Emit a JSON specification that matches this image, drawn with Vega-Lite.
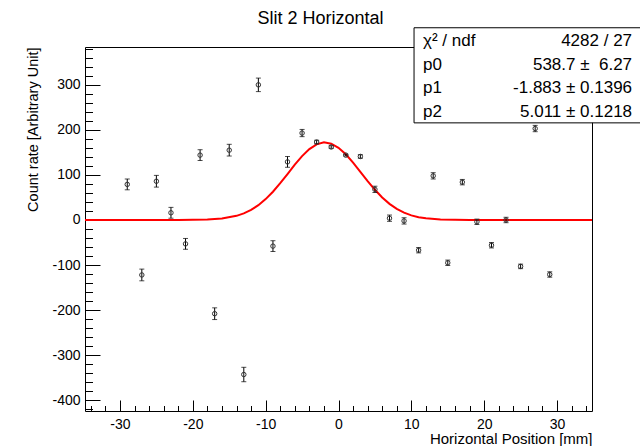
{
  "$schema": "https://vega.github.io/schema/vega-lite/v6.json",
  "width": 507,
  "height": 364,
  "autosize": "none",
  "padding": {"left": 85, "top": 47, "right": 48, "bottom": 35},
  "background": "white",
  "config": {
    "font": "Liberation Sans",
    "view": {"stroke": "black", "strokeWidth": 1},
    "axis": {"grid": false, "domain": false, "labelColor": "black", "tickColor": "black", "titleColor": "black", "labelFont": "Liberation Sans", "titleFont": "Liberation Sans", "titleFontWeight": "normal", "labelFontSize": 14, "labelOverlap": false, "labelFlush": false, "tickWidth": 1, "tickCount": 200}
  },
  "title": {"text": "Slit 2 Horizontal", "font": "Liberation Sans", "fontSize": 18, "fontWeight": "normal", "color": "black", "anchor": "middle", "frame": "group", "dx": -18, "offset": -1},
  "layer": [
    {
      "encoding": {
        "x": {"field": "x", "type": "quantitative", "scale": {"domain": [-34.8, 34.8], "nice": false, "zero": false},
          "axis": {
            "values": [-34, -32, -30, -28, -26, -24, -22, -20, -18, -16, -14, -12, -10, -8, -6, -4, -2, 0, 2, 4, 6, 8, 10, 12, 14, 16, 18, 20, 22, 24, 26, 28, 30, 32, 34],
            "tickCount": 200,
            "labelExpr": "datum.value % 10 === 0 ? '' + datum.value : ''",
            "tickSize": {"condition": {"test": "datum.value % 10 === 0", "value": -11}, "value": -5.5},
            "labelPadding": 17,
            "title": "Horizontal Position [mm]", "titleAnchor": "end", "titleFontSize": 15, "titlePadding": -5
          }},
        "y": {"field": "y", "type": "quantitative", "scale": {"domain": [-424, 384], "nice": false, "zero": false},
          "axis": {
            "values": [-420, -400, -380, -360, -340, -320, -300, -280, -260, -240, -220, -200, -180, -160, -140, -120, -100, -80, -60, -40, -20, 0, 20, 40, 60, 80, 100, 120, 140, 160, 180, 200, 220, 240, 260, 280, 300, 320, 340, 360, 380],
            "tickCount": 200,
            "labelExpr": "datum.value % 100 === 0 ? '' + datum.value : ''",
            "tickSize": {"condition": {"test": "datum.value % 100 === 0", "value": -15}, "value": -7.5},
            "labelPadding": 20,
            "title": "Count rate [Arbitrary Unit]", "titleAnchor": "end", "titleFontSize": 14.5, "titlePadding": 11
          }}
      },
      "layer": [
        {
          "data": {"values": [
            {"x": -34.8, "y": 0}, {"x": -22, "y": 0}, {"x": -20, "y": 0.3}, {"x": -18, "y": 1}, {"x": -16, "y": 3.2}, {"x": -14, "y": 9.2}, {"x": -13, "y": 14.7}, {"x": -12, "y": 22.4}, {"x": -11, "y": 32.8}, {"x": -10, "y": 46.3}, {"x": -9, "y": 62.7}, {"x": -8, "y": 81.6}, {"x": -7, "y": 102}, {"x": -6, "y": 122.7}, {"x": -5, "y": 141.7}, {"x": -4, "y": 157.3}, {"x": -3, "y": 167.8}, {"x": -2, "y": 172.5}, {"x": -1, "y": 169.4}, {"x": 0, "y": 160.3}, {"x": 1, "y": 145.8}, {"x": 2, "y": 127.4}, {"x": 3, "y": 107}, {"x": 4, "y": 86.3}, {"x": 5, "y": 67}, {"x": 6, "y": 49.9}, {"x": 7, "y": 35.8}, {"x": 8, "y": 24.6}, {"x": 9, "y": 16.3}, {"x": 10, "y": 10.3}, {"x": 11, "y": 6.3}, {"x": 12, "y": 3.7}, {"x": 14, "y": 1.1}, {"x": 16, "y": 0.3}, {"x": 18, "y": 0}, {"x": 34.8, "y": 0}
          ]},
          "mark": {"type": "line", "color": "#ff0000", "strokeWidth": 2, "interpolate": "linear"}
        },
        {
          "data": {"name": "pts", "values": [
            {"x": -29, "y": 79, "err": 12}, {"x": -27, "y": -122, "err": 13}, {"x": -25, "y": 86, "err": 13}, {"x": -23, "y": 16, "err": 12}, {"x": -21, "y": -53, "err": 12},
            {"x": -19, "y": 144, "err": 12}, {"x": -17, "y": -208, "err": 13}, {"x": -15, "y": 155, "err": 13}, {"x": -13, "y": -343, "err": 16}, {"x": -11, "y": 300, "err": 15},
            {"x": -9, "y": -58, "err": 12}, {"x": -7, "y": 129, "err": 12}, {"x": -5, "y": 193, "err": 8}, {"x": -3, "y": 173, "err": 4}, {"x": -1, "y": 162, "err": 3},
            {"x": 1, "y": 144, "err": 2}, {"x": 3, "y": 141, "err": 4}, {"x": 5, "y": 68, "err": 7}, {"x": 7, "y": 4, "err": 7}, {"x": 9, "y": -2, "err": 7},
            {"x": 11, "y": -67, "err": 6}, {"x": 13, "y": 98, "err": 7}, {"x": 15, "y": -95, "err": 6}, {"x": 17, "y": 84, "err": 6}, {"x": 19, "y": -4, "err": 6},
            {"x": 21, "y": -56, "err": 6}, {"x": 23, "y": 0, "err": 6}, {"x": 25, "y": -103, "err": 5}, {"x": 27, "y": 203, "err": 7}, {"x": 29, "y": -121, "err": 6}
          ]},
          "layer": [
            {
              "mark": {"type": "errorbar", "ticks": {"color": "black", "size": 5}, "rule": {"color": "black", "strokeWidth": 1}},
              "encoding": {"yError": {"field": "err"}}
            },
            {
              "mark": {"type": "point", "shape": "circle", "filled": false, "size": 20, "stroke": "#333333", "strokeWidth": 1, "opacity": 1}
            }
          ]
        },
        {
          "data": {"values": [{"x": 10.37, "x2": 42, "y": 426.7, "y2": 215.6}]},
          "mark": {"type": "rect", "fill": "white", "stroke": "black", "strokeWidth": 1},
          "encoding": {
            "x2": {"field": "x2"},
            "y2": {"field": "y2"}
          }
        }
      ]
    },
    {
      "data": {"values": [
        {"name": "χ² / ndf", "value": "4282 / 27"},
        {"name": "p0", "value": "538.7 ±\u00a0 6.27"},
        {"name": "p1", "value": "-1.883 ± 0.1396"},
        {"name": "p2", "value": "5.011 ± 0.1218"}
      ]},
      "encoding": {
        "y": {"field": "name", "type": "nominal", "sort": null, "scale": {"type": "point", "range": [-6, 65], "padding": 0}, "axis": null}
      },
      "layer": [
        {
          "mark": {"type": "text", "align": "left", "baseline": "middle", "fontSize": 17, "font": "Liberation Sans", "color": "black"},
          "encoding": {"x": {"datum": 11.6, "type": "quantitative"}, "text": {"field": "name"}}
        },
        {
          "mark": {"type": "text", "align": "right", "baseline": "middle", "fontSize": 17, "font": "Liberation Sans", "color": "black"},
          "encoding": {"x": {"datum": 40.3, "type": "quantitative"}, "text": {"field": "value"}}
        }
      ]
    }
  ],
  "resolve": {"scale": {"y": "independent"}}
}
